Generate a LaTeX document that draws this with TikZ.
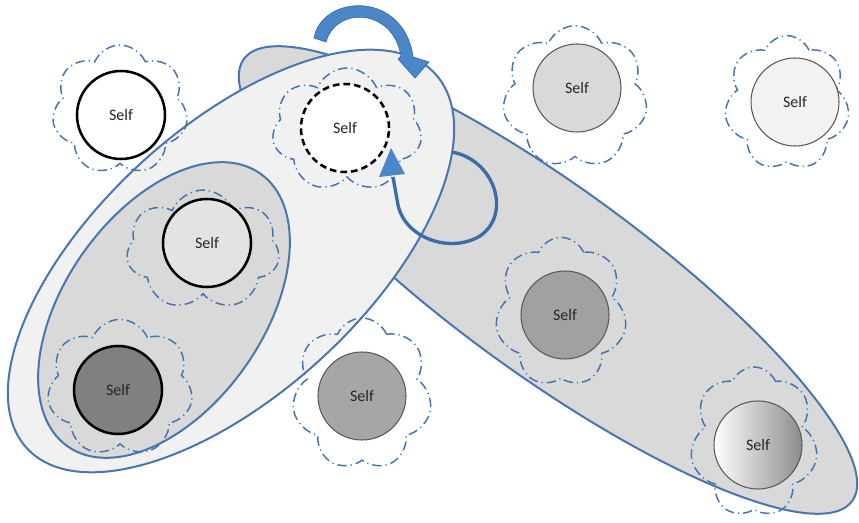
\documentclass[tikz,border=0pt]{standalone}
\usepackage{fontspec}
\newfontfamily\selffont{Carlito}
\usetikzlibrary{shapes.symbols,arrows.meta}
\definecolor{edgeblue}{RGB}{72,118,176}
\definecolor{cloudblue}{RGB}{70,115,175}
\definecolor{arrowblue}{RGB}{74,134,200}
\definecolor{arrowline}{RGB}{58,108,168}
\definecolor{midgray}{RGB}{217,217,217}
\definecolor{paleback}{RGB}{241,241,241}
\tikzset{
  blob/.style={draw=edgeblue, line width=1.5pt},
  puff/.style={cloud, cloud puffs=7, cloud puff arc=135, cloud ignores aspect,
    draw=cloudblue, line width=1.1pt, inner sep=0pt,
    dash pattern=on 7pt off 3pt on 0.9pt off 3pt},
  selfc/.style={circle, minimum size=66pt, inner sep=0pt, text=black!85,
    font=\selffont\fontsize{12}{14}\selectfont},
  boldc/.style={selfc, draw=black, line width=1.9pt},
  thinc/.style={selfc, draw=black!65, line width=0.8pt},
}
\begin{document}
\begin{tikzpicture}[x=0.75pt,y=-0.75pt]
\useasboundingbox (0,0) rectangle (859,523);
% right gray ellipse
\draw[blob, fill=midgray, rotate around={-36:(548,280)}] (548,280) ellipse [x radius=376, y radius=94];
% left big ellipse
\draw[blob, fill=paleback, rotate around={42.5:(231,261)}] (231,261) ellipse [x radius=277, y radius=133];
% inner ellipse
\draw[blob, fill=midgray, rotate around={54.7:(164,310)}] (164,310) ellipse [x radius=167, y radius=99];

% clouds
\node[puff, minimum width=102pt, minimum height=97.5pt] (c1) at (120,110) {};
\node[puff, minimum width=112.5pt, minimum height=93pt] (c2) at (347,130) {};
\node[puff, minimum width=109pt, minimum height=107pt] (c3) at (575,97) {};
\node[puff, minimum width=94pt, minimum height=101pt] (c4) at (787,103) {};
\node[puff, minimum width=115pt, minimum height=90pt] (c5) at (203,250) {};
\node[puff, minimum width=109.5pt, minimum height=103pt] (c6) at (120,388) {};
\node[puff, minimum width=105pt, minimum height=114pt] (c7) at (362,394) {};
\node[puff, minimum width=99pt, minimum height=112pt] (c8) at (561,312) {};
\node[puff, minimum width=96pt, minimum height=112.5pt] (c9) at (754,442) {};

% selves
\node[boldc, fill=white] (s1) at (121,115) {Self};
\node[boldc, fill=white, dash pattern=on 5pt off 3pt] (s2) at (345,128) {Self};
\node[thinc, fill=midgray] (s3) at (577,88) {Self};
\node[thinc, fill=black!5] (s4) at (795,102) {Self};
\node[boldc, fill=black!11] (s5) at (207,243) {Self};
\node[boldc, fill=black!50] (s6) at (118,390) {Self};
\node[thinc, fill=black!35] (s7) at (362,396) {Self};
\node[thinc, fill=black!37] (s8) at (565,315) {Self};
\node[thinc, left color=white, right color=black!45] (s9) at (758,445) {Self};

% thick curved arrow
\coordinate (tb) at (415,78);
\filldraw[fill=arrowblue, draw=arrowline, line width=0.5pt]
  (314,38) .. controls (322,-6) and (404,-10) .. (413,57)
  -- (429,62) -- (tb) -- (398,59) -- (401,56)
  .. controls (393,8) and (336,6) .. (326,42) -- cycle;

% loop arrow
\coordinate (la) at (452,152);
\coordinate (lb) at (393,177);
\coordinate (lt) at (391,148);
\draw[arrowline, line width=2.5pt] (la) .. controls (495,160) and (512,214) .. (480,236)
  .. controls (450,254) and (405,238) .. (398,205) -- (lb);
\fill[arrowblue] (lt) -- (405,174) -- (379,177) -- cycle;
\end{tikzpicture}
\end{document}
